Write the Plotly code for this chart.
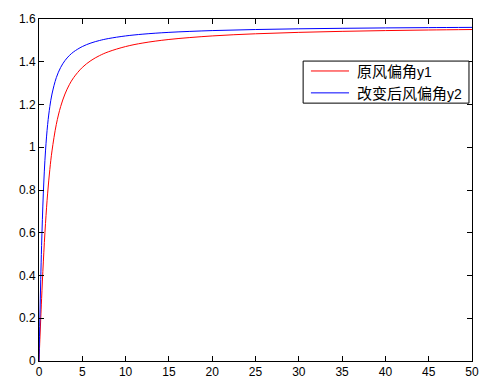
import plotly.graph_objects as go

x_vals = [0, 0.1, 0.2, 0.3, 0.5, 0.75, 1, 1.25, 1.5, 2, 2.5, 3, 3.5, 4, 5, 6, 7, 8, 10, 12, 15, 20, 25, 30, 35, 40, 45, 50]
y1_vals = [0, 0.0997, 0.1974, 0.2915, 0.4636, 0.6435, 0.7854, 0.8961, 0.9828, 1.1071, 1.1903, 1.2490, 1.2925, 1.3258,
           1.3734, 1.4056, 1.4289, 1.4464, 1.4711, 1.4877, 1.5042, 1.5208, 1.5308, 1.5375, 1.5422, 1.5458, 1.5486, 1.5508]
y2_vals = [0, 0.1974, 0.3805, 0.5404, 0.7854, 0.9828, 1.1071, 1.1903, 1.2490, 1.3258, 1.3734, 1.4056, 1.4289, 1.4464,
           1.4711, 1.4877, 1.4995, 1.5084, 1.5208, 1.5291, 1.5375, 1.5458, 1.5508, 1.5541, 1.5565, 1.5583, 1.5597, 1.5608]
series_names = ['原风偏角<span style="font-family:Liberation Sans;font-size:14px">y1</span>',
                '改变后风偏角<span style="font-family:Liberation Sans;font-size:14px">y2</span>']
series_colors = ["#ff0000", "#0000ff"]

fig = go.Figure()
for ys, nm, col in zip([y1_vals, y2_vals], series_names, series_colors):
    fig.add_trace(go.Scatter(x=x_vals, y=ys, mode="lines", name=nm, showlegend=False,
                             line=dict(color=col, width=1, shape="spline")))

axis_common = dict(showline=True, linecolor="black", linewidth=1, mirror="ticks",
                   ticks="inside", ticklen=5, tickcolor="black", showgrid=False, zeroline=False,
                   automargin=False,
                   tickfont=dict(family="Liberation Sans, Arial", size=12, color="black"))
fig.update_xaxes(range=[0, 50], dtick=5, tick0=0, **axis_common)
fig.update_yaxes(range=[0, 1.6], dtick=0.2, tick0=0, **axis_common)

# Manual legend (MATLAB style box)
box_x0, box_x1, box_y0, box_y1 = 0.610, 0.993, 0.754, 0.877
row_y = [0.848, 0.784]
line_x0, line_x1, text_x = 0.628, 0.716, 0.729
fig.add_shape(type="rect", xref="paper", yref="paper", x0=box_x0, x1=box_x1, y0=box_y0, y1=box_y1,
              line=dict(color="black", width=1), fillcolor="white", layer="above")
for ry, nm, col in zip(row_y, series_names, series_colors):
    fig.add_shape(type="line", xref="paper", yref="paper", x0=line_x0, x1=line_x1, y0=ry, y1=ry,
                  line=dict(color=col, width=1), layer="above")
    fig.add_annotation(xref="paper", yref="paper", x=text_x, y=ry, text=nm, showarrow=False,
                       xanchor="left", yanchor="middle",
                       font=dict(family="Noto Sans CJK SC", size=15, color="black"))

fig.update_layout(
    width=490, height=381,
    margin=dict(l=31, r=26, t=11, b=28),
    paper_bgcolor="white", plot_bgcolor="white",
    font=dict(family="Liberation Sans", size=12, color="black"),
    showlegend=False,
)

fig.write_html("out.html")
